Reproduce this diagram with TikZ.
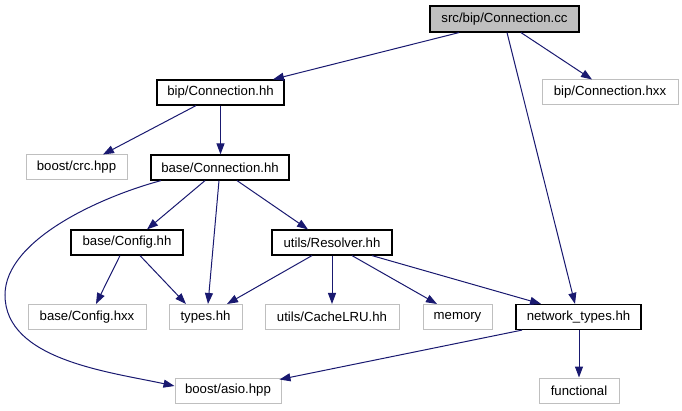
\documentclass[tikz,border=0pt]{standalone}
\usepackage{fontspec}
\setmainfont{Liberation Sans}
\usetikzlibrary{arrows.meta}
\definecolor{EdgeBlue}{HTML}{191970}
\definecolor{LightGray}{HTML}{BFBFBF}
\begin{document}
\begin{tikzpicture}[x=1pt, y=-1pt,
    every node/.style={font=\fontsize{13.2}{15}\selectfont, inner sep=0pt, minimum height=25pt},
    incfile/.style={draw=black, line width=1.2pt, fill=white},
    extfile/.style={draw=LightGray, line width=1pt, fill=white},
    rootfile/.style={draw=black, line width=1.2pt, fill=LightGray},
    dep/.style={draw=EdgeBlue, line width=1pt, -{Triangle[length=11pt,width=8pt]}}]
        \useasboundingbox (0,0) rectangle (682,411);

        % Nodes
        \node[rootfile, minimum width=149pt, minimum height=26pt] (src) at (504.5,19) {src/bip/Connection.cc};
        \node[incfile, minimum width=127pt] (bipcc) at (220.5,92.5) {bip/Connection.hh};
        \node[extfile, minimum width=136pt] (biphxx) at (610,92.5) {bip/Connection.hxx};
        \node[extfile, minimum width=101pt] (crc) at (76.5,167.5) {boost/crc.hpp};
        \node[incfile, minimum width=138pt] (baseconn) at (220,167.5) {base/Connection.hh};
        \node[incfile, minimum width=112pt] (config) at (127,242.5) {base/Config.hh};
        \node[incfile, minimum width=120pt] (resolver) at (332,242.5) {utils/Resolver.hh};
        \node[extfile, minimum width=118pt] (confighxx) at (87,317) {base/Config.hxx};
        \node[extfile, minimum width=73pt] (types) at (205.5,317) {types.hh};
        \node[extfile, minimum width=134pt] (cachelru) at (332,317) {utils/CacheLRU.hh};
        \node[extfile, minimum width=69pt] (memory) at (457.5,317) {memory};
        \node[incfile, minimum width=125pt] (nettypes) at (578.5,317) {network\_types.hh};
        \node[extfile, minimum width=106pt] (asio) at (228,390.5) {boost/asio.hpp};
        \node[extfile, minimum width=80pt] (functional) at (579,390.5) {functional};

        % Edges
        \draw[dep] ([xshift=-45.5pt]src.south) -- ([xshift=52.5pt]bipcc.north);
        \draw[dep] ([xshift=16.5pt]src.south) -- ([xshift=-18pt]biphxx.north);
        \draw[dep] ([xshift=2.5pt]src.south) -- ([xshift=-3.5pt]nettypes.north);
        \draw[dep] ([xshift=-24.5pt]bipcc.south) -- ([xshift=26.5pt]crc.north);
        \draw[dep] (bipcc.south) -- (bipcc.south |- baseconn.north);
        \draw[dep] ([xshift=-59pt]baseconn.south) .. controls (100,197) and (5,240) .. (5,295)
            .. controls (5,360) and (110,372) .. ([yshift=4.5pt]asio.west);
        \draw[dep] ([xshift=-15pt]baseconn.south) -- ([xshift=20pt]config.north);
        \draw[dep] ([xshift=-1pt]baseconn.south) -- ([xshift=2.5pt]types.north);
        \draw[dep] ([xshift=17pt]baseconn.south) -- ([xshift=-24pt]resolver.north);
        \draw[dep] ([xshift=-7pt]config.south) -- ([xshift=9pt]confighxx.north);
        \draw[dep] ([xshift=13pt]config.south) -- ([xshift=-19.5pt]types.north);
        \draw[dep] ([xshift=-20pt]resolver.south) -- ([xshift=21.5pt]types.north);
        \draw[dep] (resolver.south) -- (cachelru.north);
        \draw[dep] ([xshift=20pt]resolver.south) -- ([xshift=-20.5pt]memory.north);
        \draw[dep] ([xshift=40pt]resolver.south) -- ([xshift=-37.5pt]nettypes.north);
        \draw[dep] ([xshift=-56.5pt]nettypes.south) -- ([xshift=-2pt,yshift=-2pt]asio.north east);
        \draw[dep] ([xshift=0.5pt]nettypes.south) -- (functional.north);
    \end{tikzpicture}
\end{document}
